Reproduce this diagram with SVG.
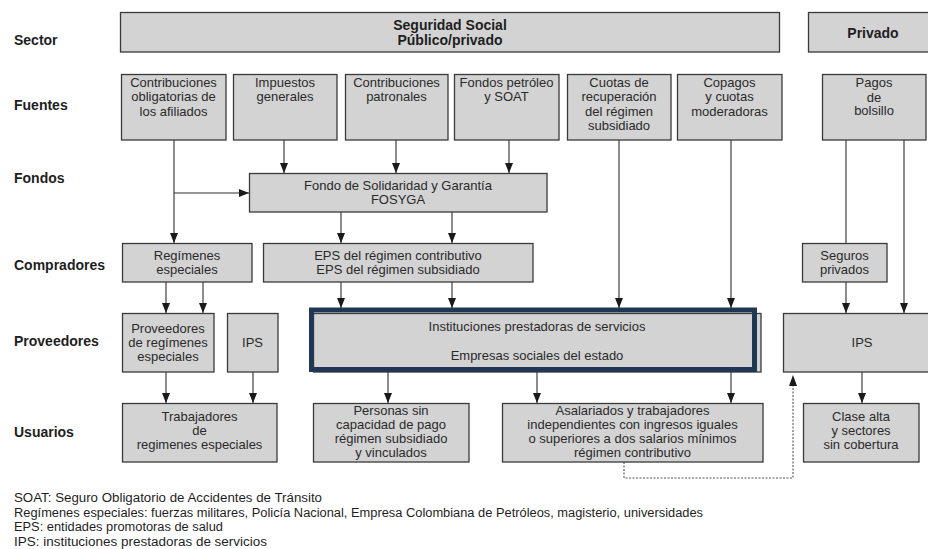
<svg xmlns="http://www.w3.org/2000/svg" width="928" height="549" viewBox="0 0 928 549">
<style>
.box{fill:#d3d3d3;stroke:#3a3a3a;stroke-width:1.3}
.t{font-family:"Liberation Sans",Arial,sans-serif;font-size:13px;fill:#2a2a2a;text-anchor:middle}
.b{font-family:"Liberation Sans",Arial,sans-serif;font-size:14px;font-weight:bold;fill:#1e1e1e}
.bc{text-anchor:middle}
.leg{font-family:"Liberation Sans",Arial,sans-serif;font-size:12px;fill:#1e1e1e}
.ln{fill:none;stroke:#2e2e2e;stroke-width:1.1}
.dash{fill:none;stroke:#555;stroke-width:1.1;stroke-dasharray:2,1.5}
</style>
<defs>
<marker id="ah" markerUnits="userSpaceOnUse" viewBox="0 0 10 8" markerWidth="10" markerHeight="8" refX="10" refY="4" orient="auto">
<path d="M0,0 L10,4 L0,8 z" fill="#1a1a1a"/>
</marker>
</defs>

<g id="row-labels">
<text class="b" x="14" y="45">Sector</text>
<text class="b" x="14" y="110">Fuentes</text>
<text class="b" x="14" y="183">Fondos</text>
<text class="b" x="14" y="270">Compradores</text>
<text class="b" x="14" y="346">Proveedores</text>
<text class="b" x="14" y="437">Usuarios</text>
</g>

<g id="connectors">
<path class="ln" d="M174,140 V243" marker-end="url(#ah)"/>
<path class="ln" d="M174,193 H249" marker-end="url(#ah)"/>
<path class="ln" d="M284,140 V173" marker-end="url(#ah)"/>
<path class="ln" d="M396,140 V173" marker-end="url(#ah)"/>
<path class="ln" d="M509,140 V173" marker-end="url(#ah)"/>
<path class="ln" d="M341,212 V243" marker-end="url(#ah)"/>
<path class="ln" d="M452,212 V243" marker-end="url(#ah)"/>
<path class="ln" d="M619,140 V308" marker-end="url(#ah)"/>
<path class="ln" d="M731,140 V308" marker-end="url(#ah)"/>
<path class="ln" d="M846,140 V243"/>
<path class="ln" d="M904,140 V313" marker-end="url(#ah)"/>
<path class="ln" d="M846,282 V313" marker-end="url(#ah)"/>
<path class="ln" d="M166,282 V313" marker-end="url(#ah)"/>
<path class="ln" d="M203,282 V313" marker-end="url(#ah)"/>
<path class="ln" d="M341,282 V308" marker-end="url(#ah)"/>
<path class="ln" d="M452,282 V308" marker-end="url(#ah)"/>
<path class="ln" d="M166,372 V403" marker-end="url(#ah)"/>
<path class="ln" d="M253,372 V403" marker-end="url(#ah)"/>
<path class="ln" d="M388,372 V403" marker-end="url(#ah)"/>
<path class="ln" d="M537,372 V403" marker-end="url(#ah)"/>
<path class="ln" d="M731,372 V403" marker-end="url(#ah)"/>
<path class="ln" d="M862,372 V403" marker-end="url(#ah)"/>
<path class="dash" d="M624,462 V478 H793 V386"/>
<path d="M789,386 L793,375 L797,386 z" fill="#1a1a1a"/>
</g>

<g id="sector-ss">
<rect class="box" x="120.5" y="12.5" width="659" height="39.5"/>
<text class="b bc" x="450" y="30">Seguridad Social</text>
<text class="b bc" x="450" y="45">Público/privado</text>
</g>
<g id="sector-privado">
<rect class="box" x="808.5" y="12.5" width="132" height="39.5"/>
<text class="b bc" x="873" y="38">Privado</text>
</g>

<g id="f-contrib-afiliados">
<rect class="box" x="121.5" y="74.5" width="104.5" height="65.5"/>
<text class="t" x="173.5" y="86.5">Contribuciones</text>
<text class="t" x="173.5" y="101">obligatorias de</text>
<text class="t" x="173.5" y="115.5">los afiliados</text>
</g>
<g id="f-impuestos">
<rect class="box" x="233.5" y="74.5" width="103.5" height="65.5"/>
<text class="t" x="285" y="86.5">Impuestos</text>
<text class="t" x="285" y="101">generales</text>
</g>
<g id="f-contrib-patronales">
<rect class="box" x="345.5" y="74.5" width="102.5" height="65.5"/>
<text class="t" x="396.5" y="86.5">Contribuciones</text>
<text class="t" x="396.5" y="101">patronales</text>
</g>
<g id="f-petroleo">
<rect class="box" x="454.5" y="74.5" width="104.5" height="65.5"/>
<text class="t" x="506.5" y="86.5">Fondos petróleo</text>
<text class="t" x="506.5" y="101">y SOAT</text>
</g>
<g id="f-cuotas">
<rect class="box" x="567.5" y="74.5" width="103.5" height="65.5"/>
<text class="t" x="619" y="86.5">Cuotas de</text>
<text class="t" x="619" y="101">recuperación</text>
<text class="t" x="619" y="115.5">del régimen</text>
<text class="t" x="619" y="130">subsidiado</text>
</g>
<g id="f-copagos">
<rect class="box" x="677.5" y="74.5" width="104.5" height="65.5"/>
<text class="t" x="729.5" y="86.5">Copagos</text>
<text class="t" x="729.5" y="101">y cuotas</text>
<text class="t" x="729.5" y="115.5">moderadoras</text>
</g>
<g id="f-pagos">
<rect class="box" x="822.5" y="74.5" width="103.5" height="65.5"/>
<text class="t" x="874" y="87">Pagos</text>
<text class="t" x="874" y="101.5">de</text>
<text class="t" x="874" y="115">bolsillo</text>
</g>

<g id="fosyga">
<rect class="box" x="249.5" y="173.5" width="297.5" height="38.5"/>
<text class="t" x="398" y="189.5">Fondo de Solidaridad y Garantía</text>
<text class="t" x="398" y="203.5">FOSYGA</text>
</g>

<g id="c-regimenes">
<rect class="box" x="122.5" y="243.5" width="129.5" height="38.5"/>
<text class="t" x="187" y="259.5">Regímenes</text>
<text class="t" x="187" y="273.5">especiales</text>
</g>
<g id="c-eps">
<rect class="box" x="263.5" y="243.5" width="269.5" height="38.5"/>
<text class="t" x="398" y="259.5">EPS del régimen contributivo</text>
<text class="t" x="398" y="273.5">EPS del régimen subsidiado</text>
</g>
<g id="c-seguros">
<rect class="box" x="802.5" y="243.5" width="84.5" height="38.5"/>
<text class="t" x="844.5" y="259.5">Seguros</text>
<text class="t" x="844.5" y="273.5">privados</text>
</g>

<g id="p-proveedores">
<rect class="box" x="122.5" y="313.5" width="91.5" height="58.5"/>
<text class="t" x="168" y="332.5">Proveedores</text>
<text class="t" x="168" y="347">de regímenes</text>
<text class="t" x="168" y="361">especiales</text>
</g>
<g id="p-ips-left">
<rect class="box" x="227.5" y="313.5" width="50.5" height="58.5"/>
<text class="t" x="252.5" y="346.5">IPS</text>
</g>
<g id="p-ips-central">
<rect class="box" x="313.5" y="313.5" width="447.5" height="58.5"/>
<rect x="311.5" y="310" width="443" height="59.5" fill="none" stroke="#1f3655" stroke-width="5"/>
<text class="t" x="537" y="331">Instituciones prestadoras de servicios</text>
<text class="t" x="537" y="359.5">Empresas sociales del estado</text>
</g>
<g id="p-ips-right">
<rect class="box" x="783.5" y="313.5" width="158" height="58.5"/>
<text class="t" x="862" y="346.5">IPS</text>
</g>

<g id="u-trabajadores">
<rect class="box" x="122.5" y="403.5" width="154.5" height="58.5"/>
<text class="t" x="199.5" y="420.5">Trabajadores</text>
<text class="t" x="199.5" y="434.5">de</text>
<text class="t" x="199.5" y="448.5">regimenes especiales</text>
</g>
<g id="u-personas">
<rect class="box" x="313.5" y="403.5" width="155.5" height="58.5"/>
<text class="t" x="391" y="414.5">Personas sin</text>
<text class="t" x="391" y="428.5">capacidad de pago</text>
<text class="t" x="391" y="442.5">régimen subsidiado</text>
<text class="t" x="391" y="456.5">y vinculados</text>
</g>
<g id="u-asalariados">
<rect class="box" x="502.5" y="403.5" width="260.5" height="58.5"/>
<text class="t" x="632.5" y="414.5">Asalariados y trabajadores</text>
<text class="t" x="632.5" y="428.5">independientes con ingresos iguales</text>
<text class="t" x="632.5" y="442.5">o superiores a dos salarios mínimos</text>
<text class="t" x="632.5" y="456.5">régimen contributivo</text>
</g>
<g id="u-clase-alta">
<rect class="box" x="803.5" y="403.5" width="115.5" height="58.5"/>
<text class="t" x="861" y="421">Clase alta</text>
<text class="t" x="861" y="435">y sectores</text>
<text class="t" x="861" y="449">sin cobertura</text>
</g>

<g id="legend">
<text class="leg" x="14" y="502" textLength="308" lengthAdjust="spacingAndGlyphs">SOAT: Seguro Obligatorio de Accidentes de Tránsito</text>
<text class="leg" x="14" y="516.5" textLength="689" lengthAdjust="spacingAndGlyphs">Regímenes especiales: fuerzas militares, Policía Nacional, Empresa Colombiana de Petróleos, magisterio, universidades</text>
<text class="leg" x="14" y="531" textLength="209" lengthAdjust="spacingAndGlyphs">EPS: entidades promotoras de salud</text>
<text class="leg" x="14" y="545.5" textLength="253" lengthAdjust="spacingAndGlyphs">IPS: instituciones prestadoras de servicios</text>
</g>
</svg>
